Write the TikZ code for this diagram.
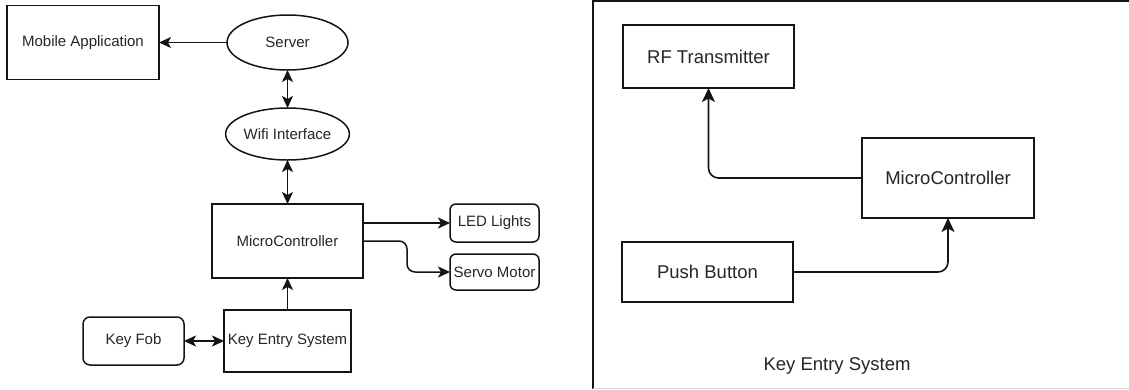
\documentclass[tikz,border=0pt]{standalone}
\usepackage{fontspec}
\setmainfont{Liberation Sans}
\usetikzlibrary{arrows.meta,shapes.geometric}
\definecolor{txt}{rgb}{0.15,0.15,0.15}
\definecolor{ln}{rgb}{0.08,0.08,0.08}
\begin{document}
\begin{tikzpicture}[x=1pt,y=-1pt,
  every node/.style={inner sep=0pt,outer sep=0pt,text=txt},
  sm/.style={font=\fontsize{15}{18}\selectfont},
  lg/.style={font=\fontsize{18.5}{22}\selectfont},
  box/.style={draw=ln,line width=1.5pt,rectangle,align=center},
  rbox/.style={box,rounded corners=6pt},
  oval/.style={draw=ln,line width=1.5pt,ellipse},
  tip/.tip={Stealth[length=12pt,width=11pt,inset=3pt]},
  btip/.tip={Stealth[length=14pt,width=13pt,inset=3.5pt]},
  arr/.style={draw=ln,line width=1.5pt,-tip},
  darr/.style={draw=ln,line width=1.5pt,tip-tip},
  barr/.style={draw=ln,line width=1.6pt,-btip,rounded corners=10pt}
]
\useasboundingbox (0,0) rectangle (1129,389);
\fill[white] (0,0) rectangle (1129,389);

% left diagram
\node[box,sm,minimum width=152pt,minimum height=74pt] (mob) at (83,42.5) {Mobile Application};
\node[oval,sm,minimum width=121pt,minimum height=55pt] (server) at (287.5,42.5) {Server};
\node[oval,sm,minimum width=121pt,minimum height=52pt] (wifi) at (287.5,134) {Wifi Interface};
\node[box,sm,minimum width=151pt,minimum height=74pt] (mc) at (287.5,241) {MicroController};
\node[box,sm,minimum width=127pt,minimum height=62pt] (kes) at (287.5,341) {Key Entry System};
\node[rbox,sm,rounded corners=7pt,minimum width=101pt,minimum height=48pt] (fob) at (133.5,341) {Key Fob};
\node[rbox,sm,minimum width=89pt,minimum height=38pt] (led) at (494.5,223) {LED Lights};
\node[rbox,sm,minimum width=89pt,minimum height=36pt] (servo) at (494.5,272) {Servo Motor};

\draw[arr] (server.west) -- (mob.east);
\draw[darr] (server.south) -- (wifi.north);
\draw[darr] (wifi.south) -- (mc.north);
\draw[arr] (kes.north) -- (mc.south);
\draw[darr] (fob.east) -- (kes.west);
\draw[arr] (led.west -| mc.east) -- (led.west);
\draw[arr,rounded corners=8pt] (mc.east) -- (407,241) -- (407,272) -- (servo.west);

% right panel
\draw[ln,line width=1.8pt] (593,389) -- (593,1) -- (1129,1);
\draw[black!15,line width=1pt] (593,388) -- (1129,388);
\node[box,lg,minimum width=171pt,minimum height=63pt] (rf) at (708.5,56.5) {RF Transmitter};
\node[box,lg,minimum width=172pt,minimum height=80pt] (mc2) at (948,178) {MicroController};
\node[box,lg,minimum width=171pt,minimum height=60pt] (pb) at (707.5,272) {Push Button};
\node[lg] (title) at (837,366) {Key Entry System};

\draw[barr] (mc2.west) -| (rf.south);
\draw[barr] (pb.east) -| (mc2.south);
\end{tikzpicture}
\end{document}
